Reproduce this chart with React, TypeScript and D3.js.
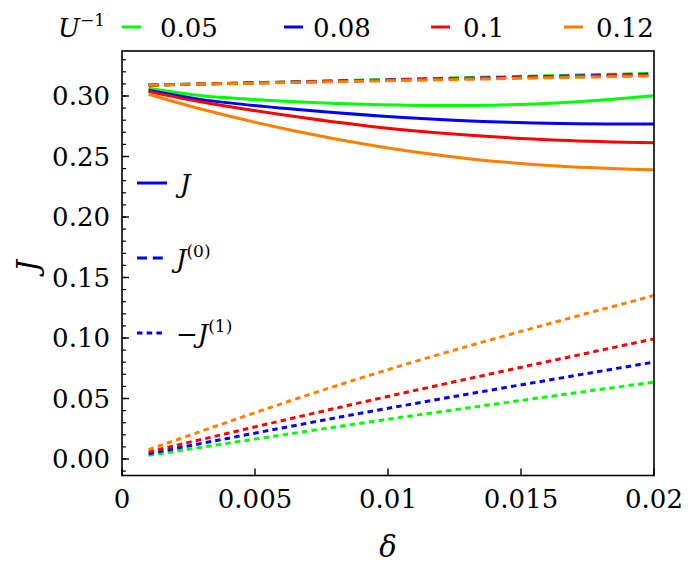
import React from "react";
import * as d3 from "d3";

const W = 694;
const H = 567;

const uInv = ["0.05", "0.08", "0.1", "0.12"];
const colors = ["#00ff00", "#0000ff", "#ff0000", "#ff7f00"];

// J (solid)
const deltaJ = [0.001, 0.003, 0.0065, 0.0097, 0.0131, 0.0165, 0.02];
const J_005 = [0.3064, 0.3002, 0.2953, 0.2928, 0.2922, 0.2945, 0.3003];
const J_008 = [0.3047, 0.297, 0.289, 0.2835, 0.2794, 0.2772, 0.2768];
const J_010 = [0.3036, 0.295, 0.283, 0.274, 0.2675, 0.2635, 0.2613];
const J_012 = [0.3014, 0.289, 0.271, 0.258, 0.248, 0.242, 0.239];

// J^(0) (dashed)
const delta0 = [0.001, 0.02];
const J0_005 = [0.309, 0.3188];
const J0_008 = [0.309, 0.318];
const J0_010 = [0.309, 0.3175];
const J0_012 = [0.309, 0.3166];

// -J^(1) (dotted)
const delta1 = [0.001, 0.0099, 0.02];
const J1_005 = [0.003, 0.0325, 0.0636];
const J1_008 = [0.0044, 0.0415, 0.0801];
const J1_010 = [0.0058, 0.0512, 0.0993];
const J1_012 = [0.0077, 0.0732, 0.1351];

const xTicks = [0, 0.005, 0.01, 0.015, 0.02];
const xTickLabels = ["0", "0.005", "0.01", "0.015", "0.02"];
const yTicks = [0, 0.05, 0.1, 0.15, 0.2, 0.25, 0.3];
const yTickLabels = ["0.00", "0.05", "0.10", "0.15", "0.20", "0.25", "0.30"];

const FONT = "DejaVu Serif";

export default function App() {
  const left = 122, right = 654, top = 51, bottom = 475.5;
  const x = d3.scaleLinear().domain([0, 0.02]).range([left, right]);
  const y = d3.scaleLinear().domain([0, 0.3]).range([459, 96]);

  const Jsets = [J_005, J_008, J_010, J_012];
  const J0sets = [J0_005, J0_008, J0_010, J0_012];
  const J1sets = [J1_005, J1_008, J1_010, J1_012];

  const mk = (xs: number[], ys: number[], curve: any) =>
    d3
      .line<number>()
      .x((_, i) => x(xs[i]))
      .y((v) => y(v))
      .curve(curve)(ys) || "";

  const minorY = d3.range(-0.01, 0.34, 0.01).filter((v) => y(v) < bottom && y(v) > top);

  const fs = 26;
  const sup = 17;
  const lw = 3;

  return (
    <svg
      width={W}
      height={H}
      style={{ position: "absolute", left: 0, top: 0, background: "#fff" }}
      fontFamily={FONT}
      fill="#000"
    >
      <defs>
        <clipPath id="plot">
          <rect x={left} y={top} width={right - left} height={bottom - top} />
        </clipPath>
      </defs>
      <g clipPath="url(#plot)" fill="none">
        {Jsets.map((s, i) => (
          <path key={"j" + i} d={mk(deltaJ, s, d3.curveCatmullRom)} stroke={colors[i]} strokeWidth={lw} />
        ))}
        {J0sets.map((s, i) => (
          <path
            key={"j0" + i}
            d={mk(delta0, s, d3.curveLinear)}
            stroke={colors[i]}
            strokeWidth={lw}
            strokeDasharray="10,5.8"
          />
        ))}
        {J1sets.map((s, i) => (
          <path
            key={"j1" + i}
            d={mk(delta1, s, d3.curveNatural)}
            stroke={colors[i]}
            strokeWidth={lw}
            strokeDasharray="5.5,4.2"
          />
        ))}
      </g>

      {/* frame */}
      <rect x={left} y={top} width={right - left} height={bottom - top} fill="none" stroke="#000" strokeWidth={1.6} />

      {/* y ticks */}
      {minorY.map((v, i) => (
        <line key={"my" + i} x1={left} x2={left + 4} y1={y(v)} y2={y(v)} stroke="#000" strokeWidth={1.2} />
      ))}
      {yTicks.map((v, i) => (
        <g key={"yt" + i}>
          <line x1={left} x2={left + 7} y1={y(v)} y2={y(v)} stroke="#000" strokeWidth={1.4} />
          <text x={110} y={y(v) + 9} textAnchor="end" fontSize={fs}>
            {yTickLabels[i]}
          </text>
        </g>
      ))}
      {/* x ticks */}
      {xTicks.map((v, i) => (
        <g key={"xt" + i}>
          <line x1={x(v)} x2={x(v)} y1={bottom} y2={bottom - 7} stroke="#000" strokeWidth={1.4} />
          <text x={x(v)} y={508} textAnchor="middle" fontSize={fs}>
            {xTickLabels[i]}
          </text>
        </g>
      ))}

      {/* axis labels */}
      <text x={388} y={557} textAnchor="middle" fontSize={29} fontStyle="italic">
        δ
      </text>
      <text transform={`translate(38,266) rotate(-90)`} textAnchor="middle" fontSize={29} fontStyle="italic">
        J
      </text>

      {/* top legend */}
      <text x={58} y={37} fontSize={fs}>
        <tspan fontStyle="italic">U</tspan>
        <tspan fontSize={sup} dy={-11}>−1</tspan>
      </text>
      {[
        [122, 160],
        [284, 313],
        [431, 463],
        [564, 596],
      ].map((p, i) => (
        <g key={"lg" + i}>
          <line x1={p[0]} x2={p[0] + 19} y1={27} y2={27} stroke={colors[i]} strokeWidth={3} />
          <text x={p[1]} y={37} fontSize={fs}>
            {uInv[i]}
          </text>
        </g>
      ))}

      {/* inner legend */}
      <line x1={137} x2={167} y1={183} y2={183} stroke="#0000ff" strokeWidth={lw} />
      <text x={180} y={193} fontSize={fs} fontStyle="italic">
        J
      </text>
      <line x1={137} x2={165} y1={258} y2={258} stroke="#0000ff" strokeWidth={lw} strokeDasharray="10,5.8" />
      <text x={176} y={268} fontSize={fs}>
        <tspan fontStyle="italic">J</tspan>
        <tspan fontSize={sup} dy={-11}>(0)</tspan>
      </text>
      <line x1={137} x2={164} y1={333} y2={333} stroke="#0000ff" strokeWidth={lw} strokeDasharray="5.5,4.2" />
      <text x={176} y={343} fontSize={fs}>
        <tspan>−</tspan>
        <tspan fontStyle="italic">J</tspan>
        <tspan fontSize={sup} dy={-11}>(1)</tspan>
      </text>
    </svg>
  );
}
